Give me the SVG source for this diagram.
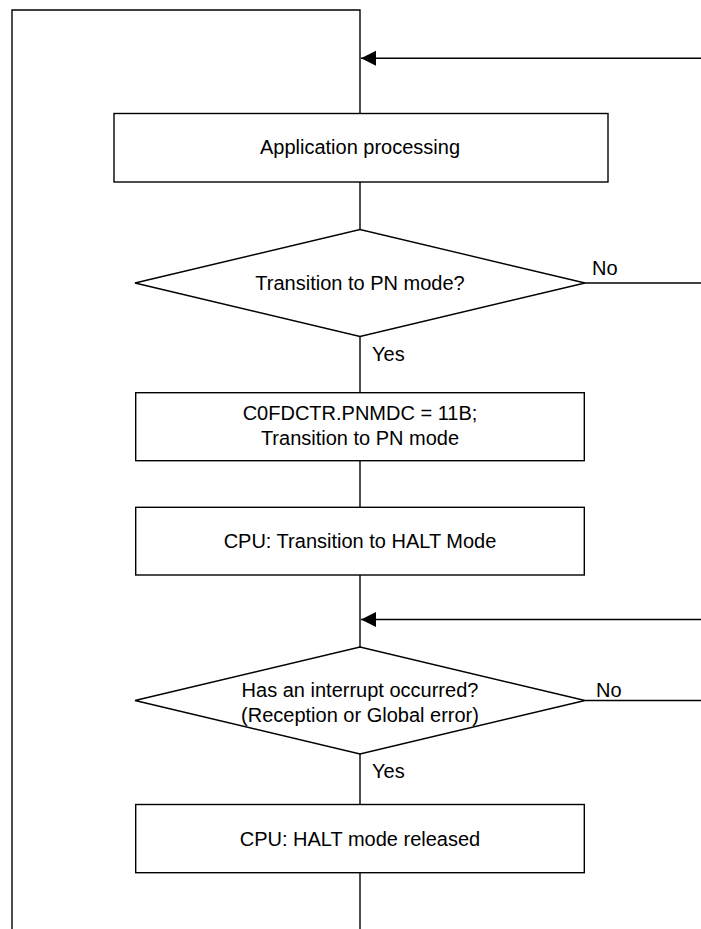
<svg xmlns="http://www.w3.org/2000/svg" width="701" height="929" viewBox="0 0 701 929">
<style>
.shape{fill:#fff;stroke:#000;stroke-width:1.4}
.ln{fill:none;stroke:#000;stroke-width:1.4}
text{font-family:"Liberation Sans",Arial,sans-serif;font-size:20px;fill:#000}
.c{text-anchor:middle}
</style>
<defs>
<marker id="ah" markerWidth="16" markerHeight="16" refX="15" refY="7.5" orient="auto" markerUnits="userSpaceOnUse">
<path d="M0,0 L15,7.5 L0,15 Z" fill="#000"/>
</marker>
</defs>
<rect width="701" height="929" fill="#fff"/>
<g id="connectors">
<path class="ln" d="M12,929 V10 H360 V113.5"/>
<path class="ln" d="M701,58.3 H361" marker-end="url(#ah)"/>
<path class="ln" d="M360,182 V229.5"/>
<path class="ln" d="M585,283 H701"/>
<path class="ln" d="M360,336.5 V392.7"/>
<path class="ln" d="M360,460.7 V507.3"/>
<path class="ln" d="M360,575 V647"/>
<path class="ln" d="M701,619.5 H361" marker-end="url(#ah)"/>
<path class="ln" d="M585,700.5 H701"/>
<path class="ln" d="M360,754 V804.5"/>
<path class="ln" d="M360,872.7 V929"/>
<text x="592" y="275">No</text>
<text x="372" y="360.5">Yes</text>
<text x="596" y="696.5">No</text>
<text x="372" y="778">Yes</text>
</g>
<g id="n1">
<rect class="shape" x="114" y="113.5" width="494" height="68.5"/>
<text class="c" x="360" y="153.5">Application processing</text>
</g>
<g id="d1">
<polygon class="shape" points="135,283 360,229.5 585,283 360,336.5"/>
<text class="c" x="360" y="290">Transition to PN mode?</text>
</g>
<g id="n2">
<rect class="shape" x="135.7" y="392.7" width="448.6" height="68"/>
<text class="c" x="360" y="420">C0FDCTR.PNMDC = 11B;</text>
<text class="c" x="360" y="445">Transition to PN mode</text>
</g>
<g id="n3">
<rect class="shape" x="135.7" y="507.3" width="448.6" height="67.7"/>
<text class="c" x="360" y="548">CPU: Transition to HALT Mode</text>
</g>
<g id="d2">
<polygon class="shape" points="135,700.5 360,647 585,700.5 360,754"/>
<text class="c" x="360" y="696.5">Has an interrupt occurred?</text>
<text class="c" x="360" y="721.5">(Reception or Global error)</text>
</g>
<g id="n4">
<rect class="shape" x="135.7" y="804.5" width="448.6" height="68.2"/>
<text class="c" x="360" y="846">CPU: HALT mode released</text>
</g>
</svg>
